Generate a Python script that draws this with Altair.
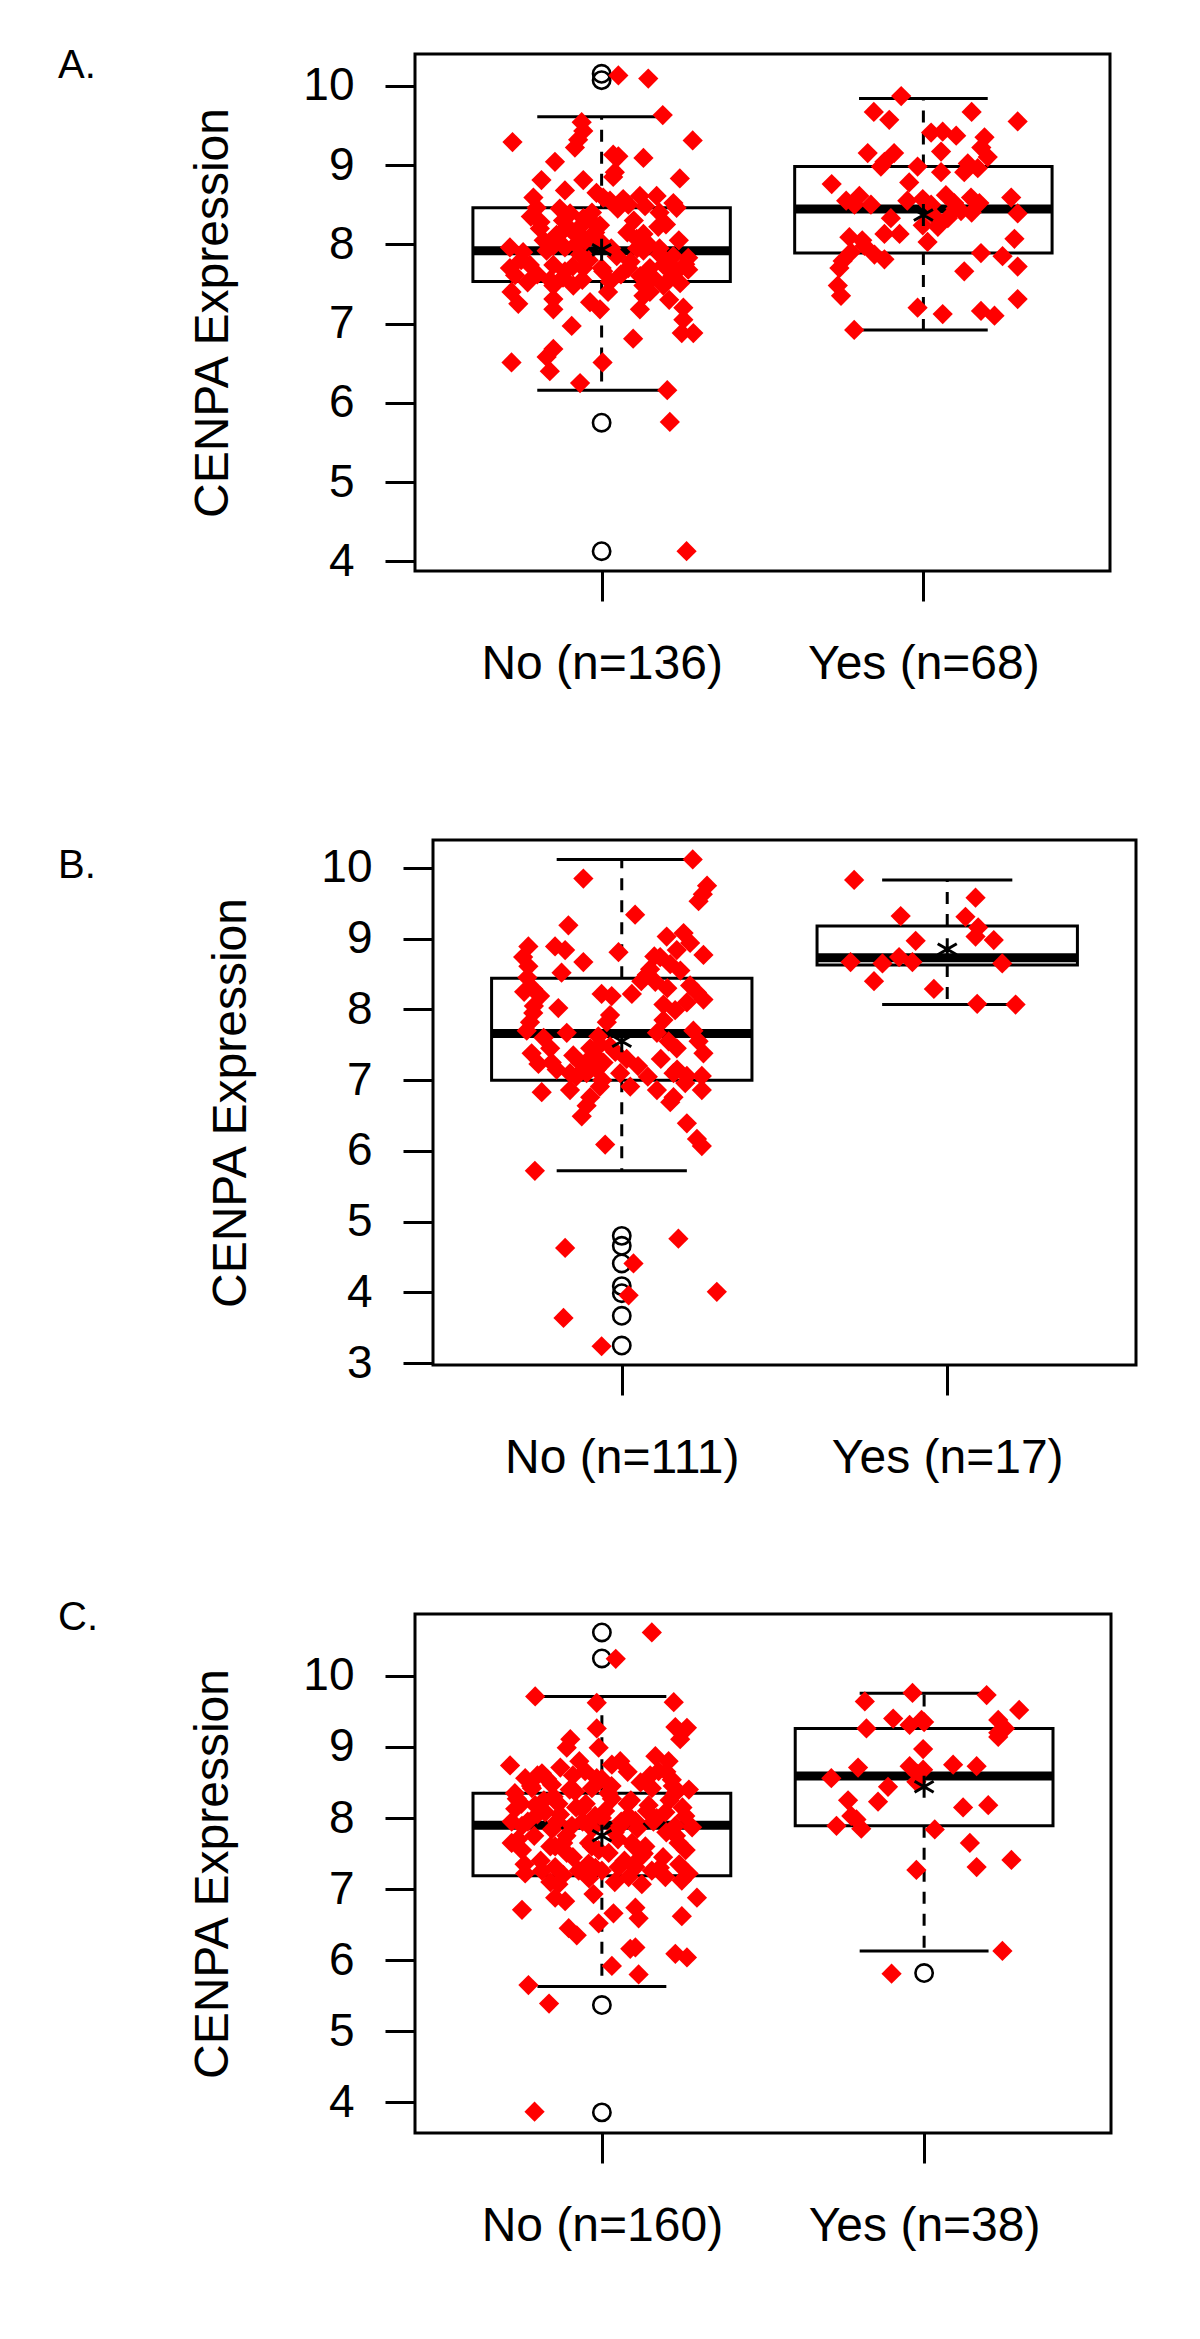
import altair as alt
import pandas as pd

FONT = "Liberation Sans"

# ---------------- data ----------------
panel_letters = ["A.", "B.", "C."]
y_title = "CENPA Expression"
cat_labels = [["No (n=136)", "Yes (n=68)"],
              ["No (n=111)", "Yes (n=17)"],
              ["No (n=160)", "Yes (n=38)"]]
y_domains = [[3.88, 10.40], [2.975, 10.395], [3.57, 10.87]]
y_ticks = [[4, 5, 6, 7, 8, 9, 10], [3, 4, 5, 6, 7, 8, 9, 10], [4, 5, 6, 7, 8, 9, 10]]
x_domain = [0.42, 2.58]

# box statistics: [lower whisker, q1, median, q3, upper whisker]
A_no_stats = [6.16, 7.53, 7.92, 8.46, 9.61]
A_yes_stats = [6.92, 7.89, 8.445, 8.98, 9.84]
B_no_stats = [5.72, 7.00, 7.66, 8.44, 10.12]
B_yes_stats = [8.07, 8.63, 8.73, 9.18, 9.83]
C_no_stats = [5.63, 7.19, 7.90, 8.35, 9.71]
C_yes_stats = [6.13, 7.89, 8.59, 9.26, 9.755]

# group means (star)
A_means = [7.93, 8.37]
B_means = [7.55, 8.85]
C_means = [7.75, 8.44]

# outliers (open circles)
A_no_out = [10.15, 10.07, 5.75, 4.13]
A_yes_out = []
B_no_out = [4.80, 4.66, 4.41, 4.09, 3.99, 3.67, 3.25]
B_yes_out = []
C_no_out = [10.61, 10.245, 5.37, 3.86]
C_yes_out = [5.82]

# jittered points: (horizontal offset from group centre, expression)
A_no_pts = [
    (0.052, 10.13), (0.145, 10.09), (0.19, 9.63), (-0.277, 9.29), (0.283, 9.31), (-0.062, 9.54), (-0.057, 9.43),
    (-0.073, 9.32), (-0.083, 9.22), (0.036, 9.13), (0.052, 9.11), (0.13, 9.09), (-0.145, 9.04), (0.041, 8.91),
    (0.036, 8.85), (-0.187, 8.81), (-0.057, 8.81), (0.243, 8.83), (-0.114, 8.68), (-0.212, 8.59), (-0.016, 8.65),
    (0.005, 8.59), (0.026, 8.55), (0.067, 8.57), (0.119, 8.61), (0.171, 8.61), (0.223, 8.52), (0.233, 8.46),
    (0.083, 8.50), (0.135, 8.48), (-0.202, 8.46), (-0.098, 8.39), (-0.057, 8.33), (-0.031, 8.29), (-0.005, 8.24),
    (-0.067, 8.22), (-0.192, 8.20), (-0.13, 8.13), (-0.078, 8.11), (-0.036, 8.09), (0.13, 8.13), (0.176, 8.22),
    (0.109, 8.07), (-0.285, 7.96), (-0.244, 7.90), (-0.171, 7.92), (-0.114, 7.96), (-0.067, 7.87), (0.047, 7.85),
    (0.13, 7.92), (0.181, 7.87), (0.223, 7.85), (0.269, 7.83), (-0.285, 7.70), (-0.269, 7.61), (-0.223, 7.74),
    (-0.15, 7.74), (-0.114, 7.66), (-0.057, 7.70), (0.005, 7.66), (0.083, 7.70), (0.15, 7.70), (0.192, 7.74),
    (0.233, 7.66), (0.269, 7.68), (0.026, 7.53), (-0.088, 7.48), (-0.15, 7.48), (0.13, 7.48), (0.192, 7.48),
    (0.244, 7.51), (-0.28, 7.40), (-0.259, 7.25), (-0.15, 7.31), (-0.15, 7.18), (-0.036, 7.27), (-0.005, 7.18),
    (0.13, 7.35), (0.119, 7.18), (0.254, 7.20), (0.254, 7.05), (0.249, 6.88), (0.285, 6.88), (-0.093, 6.97),
    (0.098, 6.81), (-0.28, 6.51), (-0.15, 6.68), (-0.171, 6.58), (-0.161, 6.40), (0.003, 6.51), (-0.067, 6.25),
    (0.204, 6.16), (0.212, 5.76), (0.264, 4.13),
    (-0.12, 8.30), (-0.10, 8.20), (-0.05, 8.05), (0.0, 8.02), (-0.02, 8.15), (-0.08, 8.00), (-0.15, 7.98),
    (-0.18, 8.05), (-0.22, 8.35), (-0.25, 7.80), (-0.20, 7.62), (-0.16, 7.55), (-0.12, 7.58), (-0.06, 7.55),
    (0.06, 7.62), (0.09, 7.78), (0.12, 7.60), (0.16, 7.58), (0.20, 7.72), (0.22, 7.60), (0.26, 7.75),
    (0.18, 7.95), (0.14, 8.02), (0.10, 8.30), (0.05, 8.45), (0.18, 8.40), (0.24, 8.05), (-0.03, 8.40),
    (-0.13, 8.45), (-0.19, 8.28), (0.03, 7.95), (0.08, 8.15), (-0.09, 7.72), (0.02, 7.40), (0.15, 7.40),
    (-0.23, 7.52), (0.21, 7.30), (-0.04, 7.80), (0.11, 7.95), (-0.14, 8.12), (0.00, 7.70), (0.20, 8.25),
]
A_yes_pts = [
    (-0.069, 9.87), (-0.154, 9.67), (-0.106, 9.57), (0.150, 9.67), (0.293, 9.55), (0.024, 9.41), (0.060, 9.42),
    (0.102, 9.37), (0.19, 9.35), (0.18, 9.22), (0.055, 9.17), (-0.173, 9.15), (-0.091, 9.15), (-0.121, 9.04),
    (-0.132, 8.98), (-0.018, 8.98), (0.055, 8.91), (0.138, 9.02), (0.169, 8.96), (0.127, 8.91), (-0.044, 8.78),
    (-0.285, 8.76), (-0.199, 8.61), (-0.214, 8.50), (-0.163, 8.50), (-0.002, 8.57), (0.024, 8.50), (0.096, 8.52),
    (0.148, 8.59), (0.174, 8.52), (0.273, 8.59), (0.293, 8.39), (-0.101, 8.33), (0.034, 8.35), (0.076, 8.33),
    (0.117, 8.42), (-0.002, 8.24), (0.045, 8.22), (-0.121, 8.13), (-0.074, 8.13), (-0.230, 8.09), (0.013, 8.03),
    (0.283, 8.07), (-0.183, 7.98), (-0.225, 7.90), (-0.152, 7.87), (-0.121, 7.81), (0.179, 7.89), (0.246, 7.85),
    (-0.251, 7.79), (-0.261, 7.70), (0.293, 7.72), (0.127, 7.66), (-0.266, 7.48), (-0.256, 7.35), (0.293, 7.31),
    (-0.018, 7.20), (0.060, 7.12), (0.179, 7.16), (0.221, 7.10), (-0.215, 6.92),
    (0.10, 8.45), (0.15, 8.40), (-0.05, 8.55), (0.07, 8.62), (-0.19, 8.05), (0.20, 9.10), (-0.24, 8.55),
]
B_no_pts = [
    (0.218, 10.12), (-0.118, 9.85), (0.262, 9.75), (0.249, 9.63), (0.236, 9.53), (0.041, 9.34), (-0.164, 9.19),
    (-0.287, 8.89), (-0.205, 8.89), (-0.174, 8.84), (-0.303, 8.74), (-0.287, 8.61), (-0.010, 8.81), (-0.118, 8.67),
    (-0.185, 8.52), (0.138, 9.03), (0.190, 9.08), (0.210, 8.94), (0.169, 8.84), (0.251, 8.77), (0.118, 8.74),
    (0.149, 8.64), (0.087, 8.57), (0.077, 8.49), (0.103, 8.39), (0.210, 8.34), (0.251, 8.14), (0.231, 8.24),
    (-0.272, 8.29), (-0.251, 8.19), (-0.195, 8.02), (-0.272, 7.95), (-0.282, 7.82), (-0.292, 7.70), (-0.062, 8.22),
    (-0.031, 8.19), (0.031, 8.22), (0.128, 8.07), (0.164, 7.99), (-0.036, 7.92), (-0.046, 7.82), (0.128, 7.85),
    (0.108, 7.67), (-0.169, 7.67), (-0.072, 7.62), (0.144, 7.55), (0.169, 7.45), (0.236, 7.55), (0.251, 7.38),
    (-0.277, 7.38), (-0.256, 7.23), (-0.215, 7.25), (-0.149, 7.35), (-0.097, 7.45), (-0.082, 7.35), (-0.067, 7.50),
    (-0.036, 7.48), (-0.128, 7.25), (-0.108, 7.10), (-0.077, 7.15), (-0.056, 7.25), (0.015, 7.30), (-0.005, 7.10),
    (0.026, 6.91), (-0.159, 7.10), (-0.159, 6.86), (-0.246, 6.83), (-0.067, 6.91), (-0.097, 6.76), (-0.108, 6.64),
    (-0.123, 6.49), (0.108, 6.86), (0.159, 7.10), (0.200, 7.06), (0.246, 7.06), (0.246, 6.86), (0.159, 6.76),
    (0.195, 6.96), (0.149, 6.69), (0.200, 6.39), (0.231, 6.17), (0.246, 6.07), (-0.051, 6.09), (-0.267, 5.72),
    (-0.174, 4.63), (0.174, 4.76), (0.036, 4.41), (0.292, 4.01), (0.021, 3.96), (-0.179, 3.64), (-0.062, 3.24),
    (-0.29, 8.45), (-0.27, 8.05), (-0.24, 7.60), (-0.20, 7.15), (-0.14, 7.05), (-0.10, 7.30), (-0.06, 7.00),
    (-0.02, 7.40), (0.05, 7.20), (0.08, 7.05), (0.12, 7.30), (0.14, 8.30), (0.18, 8.55), (0.20, 8.10),
    (0.22, 7.70), (0.10, 8.75), (0.17, 7.15), (-0.22, 7.45), (-0.30, 8.25), (0.06, 8.40),
]
B_yes_pts = [
    (-0.286, 9.83), (0.087, 9.58), (-0.143, 9.32), (0.056, 9.31), (0.095, 9.16), (0.087, 9.03), (0.143, 8.98),
    (-0.097, 8.97), (-0.148, 8.74), (-0.297, 8.67), (-0.199, 8.65), (-0.107, 8.67), (0.169, 8.65), (-0.225, 8.40),
    (-0.041, 8.29), (0.092, 8.08), (0.210, 8.07),
]
C_no_pts = [
    (0.155, 10.61), (0.043, 10.24), (-0.207, 9.71), (-0.016, 9.62), (0.223, 9.63), (0.228, 9.28), (0.264, 9.27),
    (0.243, 9.11), (-0.016, 9.26), (-0.098, 9.11), (-0.109, 8.99), (-0.010, 8.99), (-0.285, 8.74), (0.057, 8.80),
    (0.031, 8.75), (-0.129, 8.71), (0.166, 8.87), (0.207, 8.80), (0.176, 8.66), (0.217, 8.54), (-0.238, 8.56),
    (-0.186, 8.63), (-0.052, 8.66), (-0.016, 8.56), (-0.217, 8.42), (-0.155, 8.47), (-0.083, 8.37), (-0.031, 8.42),
    (0.031, 8.27), (0.155, 8.42), (0.228, 8.35), (-0.264, 8.27), (-0.269, 8.13), (-0.207, 8.18), (-0.176, 8.08),
    (-0.135, 8.20), (-0.062, 8.13), (-0.021, 8.03), (0.083, 8.03), (0.145, 8.18), (0.197, 8.08), (0.259, 8.03),
    (-0.248, 7.89), (-0.155, 7.84), (-0.093, 7.89), (0.057, 7.89), (0.104, 7.96), (0.228, 7.89), (0.280, 7.87),
    (-0.280, 7.65), (-0.248, 7.55), (-0.145, 7.60), (-0.109, 7.51), (-0.031, 7.60), (0.021, 7.51), (0.093, 7.65),
    (0.135, 7.60), (0.238, 7.65), (-0.238, 7.22), (-0.186, 7.26), (-0.145, 7.31), (-0.072, 7.26), (-0.041, 7.36),
    (0.0, 7.26), (0.052, 7.31), (0.104, 7.31), (0.155, 7.26), (0.197, 7.17), (0.248, 7.12), (0.269, 7.22),
    (0.124, 7.07), (0.083, 7.17), (-0.135, 7.07), (-0.145, 6.88), (-0.114, 6.83), (-0.026, 6.93), (0.295, 6.88),
    (-0.248, 6.71), (0.036, 6.66), (0.104, 6.74), (0.114, 6.59), (-0.010, 6.52), (-0.103, 6.45), (-0.078, 6.35),
    (0.248, 6.62), (0.088, 6.16), (0.104, 6.18), (0.228, 6.09), (0.264, 6.04), (0.031, 5.92), (0.114, 5.80),
    (-0.228, 5.65), (-0.164, 5.39), (-0.209, 3.87),
    (-0.27, 8.35), (-0.25, 8.20), (-0.23, 7.95), (-0.21, 7.75), (-0.19, 7.40), (-0.17, 8.55), (-0.15, 8.30),
    (-0.13, 8.05), (-0.11, 7.75), (-0.09, 7.45), (-0.07, 8.80), (-0.05, 8.20), (-0.03, 7.85), (-0.01, 7.55),
    (0.01, 8.10), (0.03, 8.45), (0.05, 7.70), (0.07, 7.40), (0.09, 8.25), (0.11, 7.85), (0.13, 7.50),
    (0.15, 8.60), (0.17, 8.00), (0.19, 7.45), (0.21, 8.25), (0.23, 7.75), (0.25, 8.15), (-0.26, 7.70),
    (-0.22, 8.45), (-0.18, 8.25), (-0.14, 7.95), (-0.10, 8.40), (-0.06, 7.95), (-0.02, 7.30), (0.02, 8.35),
    (0.06, 7.95), (0.10, 7.60), (0.14, 8.10), (0.18, 7.30), (0.22, 8.45), (0.26, 7.55), (-0.24, 7.35),
    (-0.20, 8.05), (-0.16, 7.60), (-0.12, 7.20), (-0.08, 8.15), (-0.04, 7.65), (0.00, 8.00), (0.04, 7.80),
    (0.08, 8.20), (0.12, 7.45), (0.16, 7.95), (0.20, 8.65), (0.24, 7.35), (-0.20, 8.60), (-0.16, 7.10),
    (-0.12, 7.65), (-0.04, 7.15), (0.04, 7.10), (0.12, 8.50), (0.20, 7.80), (0.27, 8.40), (-0.28, 7.95),
    (0.00, 8.55), (0.08, 8.65), (-0.09, 8.60),
]
C_yes_pts = [
    (-0.036, 9.76), (0.194, 9.73), (-0.184, 9.64), (0.295, 9.52), (-0.096, 9.40), (-0.008, 9.38), (-0.045, 9.31),
    (0.230, 9.38), (0.251, 9.26), (-0.179, 9.26), (0.230, 9.14), (-0.003, 8.97), (-0.205, 8.71), (-0.045, 8.73),
    (-0.003, 8.68), (0.090, 8.75), (0.163, 8.73), (-0.288, 8.56), (-0.024, 8.51), (-0.112, 8.44), (-0.236, 8.25),
    (-0.143, 8.23), (0.121, 8.15), (0.199, 8.18), (-0.226, 8.03), (-0.272, 7.89), (-0.195, 7.85), (0.033, 7.84),
    (0.142, 7.65), (0.271, 7.41), (0.163, 7.31), (-0.024, 7.27), (0.243, 6.13), (-0.101, 5.81),
    (0.23, 9.20), (-0.02, 8.62), (0.00, 9.35), (-0.21, 7.98),
]

panels = [
    dict(stats=[A_no_stats, A_yes_stats], means=A_means, outs=[A_no_out, A_yes_out],
         pts=[A_no_pts, A_yes_pts], w=695, h=517, shift=0, label_y=12),
    dict(stats=[B_no_stats, B_yes_stats], means=B_means, outs=[B_no_out, B_yes_out],
         pts=[B_no_pts, B_yes_pts], w=703, h=525, shift=18, label_y=26),
    dict(stats=[C_no_stats, C_yes_stats], means=C_means, outs=[C_no_out, C_yes_out],
         pts=[C_no_pts, C_yes_pts], w=696, h=519, shift=0, label_y=4),
]


def make_panel(i, p):
    positions = [1, 2]
    labels = cat_labels[i]
    sh = p["shift"]
    xs = alt.Scale(domain=x_domain, nice=False, zero=False, range=[sh, sh + p["w"]])
    ys = alt.Scale(domain=y_domains[i], nice=False, zero=False)
    xaxis = alt.Axis(values=positions,
                     labelExpr=f"datum.value == 1 ? '{labels[0]}' : '{labels[1]}'",
                     tickSize=30, tickWidth=3, tickColor="black", domain=False, grid=False,
                     labelFont=FONT, labelFontSize=48, labelColor="black", labelPadding=39,
                     labelLimit=0, labelFlush=False, labelOverlap=False, title=None)
    yaxis = alt.Axis(values=y_ticks[i], tickSize=30, tickWidth=3, tickColor="black",
                     domain=False, grid=False, labelFont=FONT, labelFontSize=46,
                     labelColor="black", labelPadding=31, labelFlush=False, labelOverlap=False,
                     offset=-sh,
                     title=y_title, titleFont=FONT, titleFontSize=48, titleFontWeight="normal",
                     titleColor="black", titleX=-202, titleY=p["h"] / 2, titleAngle=270,
                     titleAlign="center", titleBaseline="middle", titleLimit=0)

    def X(f="x"):
        return alt.X(f"{f}:Q", scale=xs, axis=xaxis)

    def Y(f="y"):
        return alt.Y(f"{f}:Q", scale=ys, axis=yaxis)

    box_rows, whisk_rows, cap_rows, med_rows, out_rows, pt_rows, mean_rows = [], [], [], [], [], [], []
    for pos, st, mn, outs, pts in zip(positions, p["stats"], p["means"], p["outs"], p["pts"]):
        lo, q1, med, q3, hi = st
        box_rows.append(dict(x=pos - 0.4, x2=pos + 0.4, y=q1, y2=q3))
        whisk_rows += [dict(x=pos, y=q3, y2=hi), dict(x=pos, y=q1, y2=lo)]
        cap_rows += [dict(x=pos - 0.2, x2=pos + 0.2, y=hi), dict(x=pos - 0.2, x2=pos + 0.2, y=lo)]
        med_rows.append(dict(x=pos - 0.4, x2=pos + 0.4, y=med))
        out_rows += [dict(x=pos, y=v) for v in outs]
        pt_rows += [dict(x=pos + o, y=v) for o, v in pts]
        mean_rows.append(dict(x=pos, y=mn))

    frame_df = pd.DataFrame([dict(x=x_domain[0], x2=x_domain[1], y=y_domains[i][0], y2=y_domains[i][1])])
    frame = alt.Chart(frame_df).mark_rect(
        fill="transparent", stroke="black", strokeWidth=3).encode(
        x=X(), x2="x2:Q", y=Y(), y2="y2:Q")
    box = alt.Chart(pd.DataFrame(box_rows)).mark_rect(
        fill="white", stroke="black", strokeWidth=3).encode(
        x=X(), x2="x2:Q", y=Y(), y2="y2:Q")
    whisk = alt.Chart(pd.DataFrame(whisk_rows)).mark_rule(
        color="black", strokeWidth=3, strokeDash=[12, 10]).encode(
        x=X(), y=Y(), y2="y2:Q")
    caps = alt.Chart(pd.DataFrame(cap_rows)).mark_rule(
        color="black", strokeWidth=3).encode(x=X(), x2="x2:Q", y=Y())
    meds = alt.Chart(pd.DataFrame(med_rows)).mark_rule(
        color="black", strokeWidth=9, strokeCap="butt").encode(x=X(), x2="x2:Q", y=Y())
    layers = [frame, box, whisk, caps, meds]
    if out_rows:
        layers.append(alt.Chart(pd.DataFrame(out_rows)).mark_point(
            shape="circle", filled=False, size=300, strokeWidth=2.6, color="black", opacity=1).encode(
            x=X(), y=Y()))
    layers.append(alt.Chart(pd.DataFrame(pt_rows)).mark_point(
        shape="diamond", filled=True, size=410, color="#ff0000", opacity=1).encode(x=X(), y=Y()))
    layers.append(alt.Chart(pd.DataFrame(mean_rows)).mark_point(
        shape="M0,-1L0,1M-0.866,-0.5L0.866,0.5M-0.866,0.5L0.866,-0.5",
        filled=False, size=484, strokeWidth=3, color="black", opacity=1).encode(x=X(), y=Y()))
    layers.append(alt.Chart(pd.DataFrame({"t": [panel_letters[i]]})).mark_text(
        align="left", baseline="middle", font=FONT, fontSize=40, color="black").encode(
        text="t:N", x=alt.value(-357), y=alt.value(p["label_y"])))
    return alt.layer(*layers).properties(width=p["w"] + sh, height=p["h"])


pA, pB, pC = [make_panel(i, p) for i, p in enumerate(panels)]
inner = alt.vconcat(pA, pB, spacing=150)
chart = alt.vconcat(inner, pC, spacing=116).properties(
    padding={"left": 50, "top": 38, "right": 10, "bottom": 10}
).configure(background="white", font=FONT).configure_view(stroke="transparent", strokeWidth=0)

chart.save("out.html", embed_options={"renderer": "svg", "actions": False})
